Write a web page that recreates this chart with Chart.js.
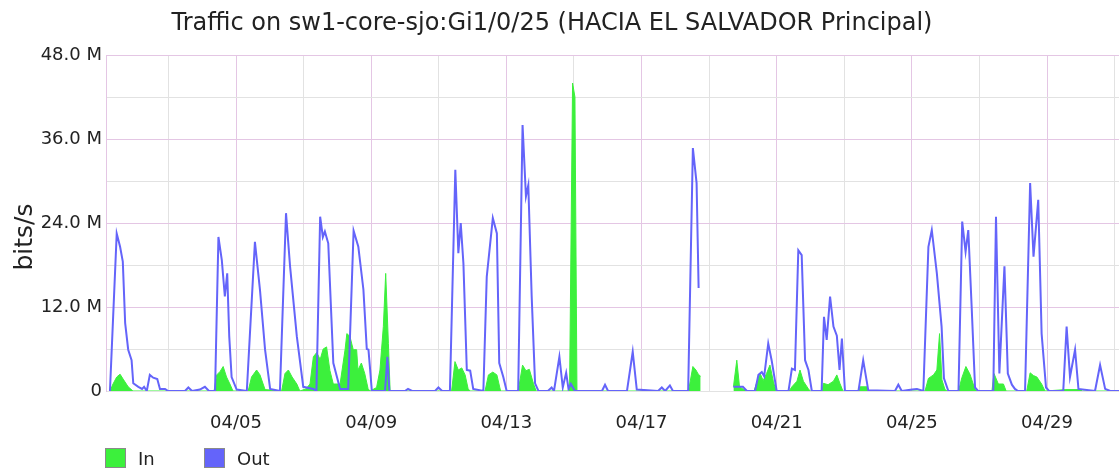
<!DOCTYPE html>
<html>
<head>
<meta charset="utf-8">
<title>Traffic on sw1-core-sjo:Gi1/0/25</title>
<script src="https://cdn.jsdelivr.net/npm/chart.js@4"></script>
<style>
    html, body { margin: 0; padding: 0; background: #fff; }
    #wrap { width: 1119px; height: 469px; }
</style>
</head>
<body>
<div id="wrap"><canvas id="trafficChart" width="1119" height="469"></canvas></div>
<script>
// x = day of April (fractional), y = Mbit/s, null = no data
const outDays = [1.27, 1.47, 1.57, 1.65, 1.72, 1.81, 1.91, 1.96, 2.11, 2.22, 2.28, 2.36, 2.45, 2.55, 2.67, 2.75, 2.90, 2.99,
    3.49, 3.59, 3.70, 3.93, 4.08, 4.20, 4.38, 4.48, 4.58, 4.67, 4.74, 4.80, 4.87, 5.02, 5.32, 5.56, 5.71, 5.86, 6.01,
    6.30, 6.48, 6.60, 6.80, 6.99, 7.29, 7.38, 7.49, 7.57, 7.63, 7.73, 7.88, 8.08, 8.32, 8.48, 8.62, 8.77, 8.87, 8.92,
    8.97, 9.02, 9.41, 9.48, 9.54, 10.00, 10.09, 10.21, 10.89, 10.99, 11.10, 11.33, 11.49, 11.58, 11.65, 11.73, 11.83,
    11.93, 12.02, 12.32, 12.42, 12.60, 12.72, 12.79, 12.91, 13.01, 13.35, 13.48, 13.58, 13.65, 13.75, 13.85, 13.95,
    14.23, 14.34, 14.41, 14.57, 14.67, 14.77, 14.84, 14.91, 15.03, 15.83, 15.92, 16.01, 16.57, 16.74, 16.86, 17.49,
    17.60, 17.70, 17.84, 17.93, 18.38, 18.52, 18.63, 18.69, 18.72, 19.72, 20.00, 20.12, 20.36, 20.46, 20.56, 20.63,
    20.75, 20.85, 21.00, 21.35, 21.45, 21.54, 21.64, 21.74, 21.84, 21.94, 22.04, 22.33, 22.40, 22.48, 22.58, 22.68,
    22.78, 22.86, 22.93, 23.02, 23.42, 23.56, 23.71, 24.50, 24.60, 24.70, 25.01, 25.15, 25.34, 25.49, 25.59, 25.74,
    25.88, 25.95, 26.08, 26.38, 26.49, 26.59, 26.67, 26.77, 26.87, 26.96, 27.41, 27.49, 27.59, 27.74, 27.84, 27.96,
    28.05, 28.14, 28.35, 28.50, 28.60, 28.74, 28.84, 28.97, 29.06, 29.48, 29.58, 29.68, 29.83, 29.93, 30.42, 30.57,
    30.72, 30.87, 31.13];
const outMbps = [0, 22.5, 20.6, 18.5, 9.7, 5.9, 4.4, 1.1, 0.6, 0.3, 0.6, 0, 2.3, 1.9, 1.7, 0.3, 0.3, 0,
    0, 0.5, 0, 0.2, 0.6, 0, 0, 22.0, 18.7, 13.5, 16.8, 7.8, 2.0, 0.2, 0, 21.3, 14.4, 5.9, 0.3,
    0, 25.4, 17.8, 7.8, 0.6, 0.3, 0, 24.9, 22.0, 22.8, 21.1, 4.0, 0.3, 0.3, 22.9, 20.6, 14.5, 6.0, 5.9,
    3.0, 0, 0, 4.9, 0, 0, 0.3, 0, 0, 0.5, 0, 0, 31.6, 19.7, 24.0, 18.2, 3.0,
    2.9, 0.3, 0, 16.3, 24.7, 22.5, 4.0, 2.0, 0, 0, 38.0, 27.8, 29.4, 13.5, 1.1, 0,
    0, 0.5, 0, 4.9, 0.5, 2.6, 0.3, 1.0, 0, 0, 0.9, 0, 0, 5.6, 0.2, 0,
    0.5, 0, 0.8, 0, 0, 34.7, 29.7, 14.7, null, 0.6, 0.6, 0, 0, 2.3, 2.7, 2.1,
    6.8, 4.4, 0, 0, 3.2, 3.0, 20.1, 19.4, 4.4, 3.0, 0, 0, 10.6, 7.3, 13.5, 9.2,
    7.9, 3.0, 7.5, 0, 0, 4.4, 0.1, 0, 0.9, 0, 0.2, 0.3, 0, 20.6, 23.0, 16.8,
    9.2, 1.8, 0, 0, 24.2, 19.9, 23.0, 12.0, 0.5, 0, 0, 24.9, 2.5, 17.8, 2.5, 0.9,
    0.3, 0, 0, 29.7, 19.2, 27.3, 8.2, 0.5, 0, 0, 9.2, 2.0, 5.9, 0.3, 0, 3.7,
    0.3, 0, 0];

const inDays = [1.27, 1.36, 1.47, 1.57, 1.66, 1.81, 1.95, 4.35, 4.43, 4.53, 4.62, 4.72, 4.82, 4.91, 5.36, 5.46, 5.61,
    5.71, 5.86, 6.35, 6.45, 6.55, 6.66, 6.80, 6.89, 7.07, 7.19, 7.29, 7.39, 7.49, 7.58, 7.68, 7.78, 7.88, 8.08, 8.23,
    8.28, 8.37, 8.47, 8.57, 8.61, 8.71, 8.81, 8.91, 8.97, 9.16, 9.26, 9.36, 9.43, 9.51, 9.56, 11.38, 11.48, 11.58,
    11.68, 11.78, 11.87, 11.93, 12.37, 12.47, 12.60, 12.72, 12.83, 13.35, 13.48, 13.58, 13.68, 13.80, 13.88, 14.87,
    14.96, 15.03, 15.09, 18.39, 18.52, 18.61, 18.68, 18.75, 18.76, 19.72, 19.82, 19.90, 20.00, 20.12, 20.33, 20.41,
    20.51, 20.60, 20.70, 20.80, 20.90, 20.98, 21.37, 21.45, 21.60, 21.69, 21.79, 21.94, 21.99, 22.34, 22.38, 22.52,
    22.68, 22.78, 22.87, 22.96, 23.41, 23.47, 23.67, 23.73, 25.39, 25.49, 25.64, 25.74, 25.82, 25.89, 25.98, 26.04,
    26.38, 26.48, 26.60, 26.72, 26.87, 26.93, 27.37, 27.43, 27.56, 27.71, 27.79, 28.40, 28.50, 28.60, 28.70, 28.84,
    28.94, 29.56, 29.98, 30.04, 31.13];
const inMbps = [0, 1.0, 2.0, 2.4, 1.7, 0.6, 0, 0, 2.3, 2.8, 3.5, 2.0, 1.0, 0, 0, 2.0, 3.0,
    2.3, 0.2, 0, 2.5, 3.0, 2.0, 1.0, 0, 0.3, 1.0, 4.9, 5.5, 4.5, 6.0, 6.3, 2.9, 1.0, 1.0, 6.0,
    8.2, 7.8, 5.9, 5.9, 3.0, 4.0, 2.5, 0.3, 0, 0.5, 3.0, 9.2, 16.8, 6.8, 0, 0, 4.2, 3.0,
    3.3, 2.3, 0.3, 0, 0, 2.3, 2.7, 2.3, 0, 0, 3.7, 2.9, 3.1, 1.1, 0, 0,
    44.0, 42.0, 0, 0, 3.5, 3.0, 2.4, 2.1, null, 0.6, 4.4, 0.6, 0.3, 0, 0, 1.2,
    2.5, 1.5, 2.5, 3.7, 1.4, 0, 0, 0.6, 1.4, 3.0, 1.4, 0.3, 0, 0, 1.1, 0.9,
    1.4, 2.3, 1.1, 0, 0, 0.6, 0.6, 0, 0, 1.8, 2.3, 3.0, 8.2, 1.6, 0.2, 0,
    0, 1.9, 3.5, 2.4, 0.2, 0, 0, 2.5, 1.0, 1.0, 0, 0, 2.6, 2.2, 2.0, 1.0,
    0, 0.2, 0.2, 0, 0];

const gridDays = [3, 5, 7, 9, 11, 13, 15, 17, 19, 21, 23, 25, 27, 29, 31];
const labelDays = [5, 9, 13, 17, 21, 25, 29];
const dateLabels = ['04/05', '04/09', '04/13', '04/17', '04/21', '04/25', '04/29'];
const yLabelValues = [0, 12, 24, 36, 48];
const yLabels = ['0', '12.0 M', '24.0 M', '36.0 M', '48.0 M'];

const GREEN = '#3cf03c';
const BLUE = '#6464fa';
const MAJOR = '#e4c6e4';
const MINOR = '#e2e2e2';
const FONT = 'DejaVu Sans';

function toPoints(days, vals) {
    return days.map(function (d, i) { return { x: d, y: vals[i] }; });
}

// title, axis name and legend are placed like the rrd graph, not where Chart.js would put them
const rrdDecor = {
    id: 'rrdDecor',
    afterDraw: function (chart) {
        const ctx = chart.ctx;
        ctx.save();
        ctx.fillStyle = '#222';
        ctx.textBaseline = 'alphabetic';
        ctx.textAlign = 'center';
        ctx.font = '24px "' + FONT + '"';
        ctx.fillText('Traffic on sw1-core-sjo:Gi1/0/25 (HACIA EL SALVADOR Principal)', 552, 30);

        ctx.save();
        ctx.translate(32, 237);
        ctx.rotate(-Math.PI / 2);
        ctx.font = '25px "' + FONT + '"';
        ctx.fillText('bits/s', 0, 0);
        ctx.restore();

        ctx.textAlign = 'left';
        ctx.font = '18px "' + FONT + '"';
        const items = [{ ds: 1, x: 105 }, { ds: 0, x: 204 }];
        items.forEach(function (it) {
            const ds = chart.data.datasets[it.ds];
            ctx.fillStyle = ds.backgroundColor;
            ctx.fillRect(it.x, 448, 21, 20);
            ctx.strokeStyle = '#8a8a8a';
            ctx.lineWidth = 1;
            ctx.strokeRect(it.x + 0.5, 448.5, 20, 19);
            ctx.fillStyle = '#222';
            ctx.fillText(ds.label, it.x + 33, 465);
        });
        ctx.restore();
    }
};

const ctx = document.getElementById('trafficChart').getContext('2d');
new Chart(ctx, {
    type: 'line',
    data: {
        datasets: [{
            label: 'Out',
            data: toPoints(outDays, outMbps),
            borderColor: BLUE,
            backgroundColor: BLUE,
            borderWidth: 2,
            fill: false,
            order: 1
        }, {
            label: 'In',
            data: toPoints(inDays, inMbps),
            borderColor: GREEN,
            backgroundColor: GREEN,
            borderWidth: 1,
            fill: 'origin',
            order: 2
        }]
    },
    options: {
        responsive: false,
        animation: false,
        devicePixelRatio: 1,
        spanGaps: false,
        elements: {
            point: { radius: 0 },
            line: { tension: 0 }
        },
        layout: { padding: { top: 55, right: 0, bottom: 0, left: 0 } },
        plugins: {
            legend: { display: false },
            title: { display: false },
            tooltip: { enabled: false }
        },
        scales: {
            x: {
                type: 'linear',
                min: 1.153,
                max: 31.13,
                afterBuildTicks: function (scale) {
                    scale.ticks = gridDays.map(function (d) { return { value: d }; });
                },
                afterFit: function (scale) {
                    scale.height = 78;
                    // labels sit well below the axis; don't let that padding shrink the plot sideways
                    scale.paddingLeft = 0;
                    scale.paddingRight = 0;
                },
                grid: {
                    drawTicks: false,
                    color: function (c) {
                        return labelDays.indexOf(c.tick.value) >= 0 ? MAJOR : MINOR;
                    }
                },
                border: { color: MINOR },
                ticks: {
                    autoSkip: false,
                    maxRotation: 0,
                    padding: 22,
                    color: '#222',
                    font: { family: FONT, size: 18 },
                    callback: function (v) {
                        const i = labelDays.indexOf(v);
                        return i >= 0 ? dateLabels[i] : '';
                    }
                }
            },
            y: {
                min: 0,
                max: 48,
                afterFit: function (scale) {
                    scale.width = 106;
                    scale.paddingTop = 0;
                    scale.paddingBottom = 0;
                },
                ticks: {
                    stepSize: 6,
                    autoSkip: false,
                    padding: 4,
                    color: '#222',
                    font: { family: FONT, size: 18 },
                    callback: function (v) {
                        const i = yLabelValues.indexOf(v);
                        return i >= 0 ? yLabels[i] : '';
                    }
                },
                grid: {
                    drawTicks: false,
                    color: function (c) {
                        return yLabelValues.indexOf(c.tick.value) > 0 ? MAJOR : MINOR;
                    }
                },
                border: { color: MAJOR }
            }
        }
    },
    plugins: [rrdDecor]
});
</script>
</body>
</html>
